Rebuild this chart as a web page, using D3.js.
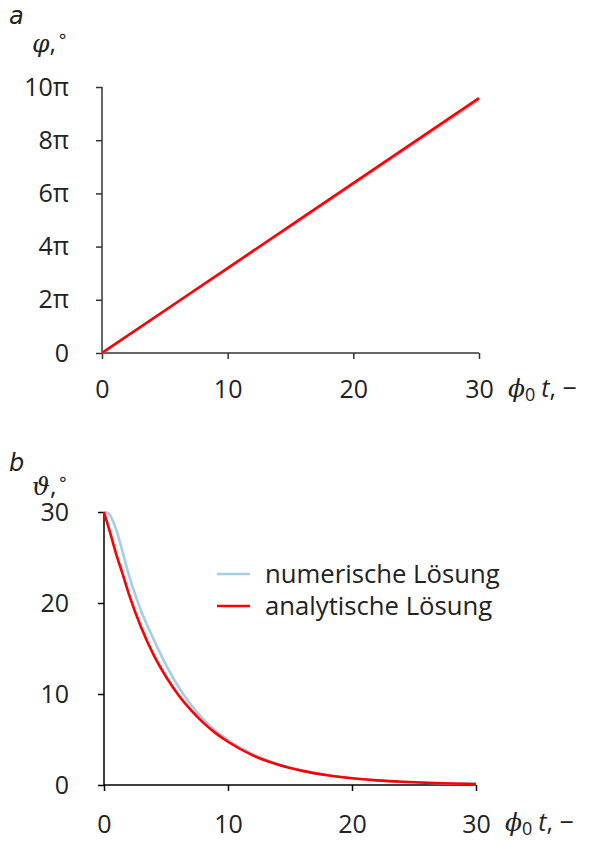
<!DOCTYPE html>
<html>
<head>
<meta charset="utf-8">
<script src="https://cdn.jsdelivr.net/npm/d3@7"></script>
<style>
  html, body { margin: 0; padding: 0; background: #fff; }
  svg text { font-family: "Open Sans", "Noto Sans", "DejaVu Sans", sans-serif; fill: #222; }
</style>
</head>
<body>
<svg id="chart" width="592" height="841"></svg>
<script>
// Panel a: azimuth angle phi (radians) over dimensionless time phi0*t
const phiTime = [0, 5, 10, 15, 20, 25, 30];
const phiNumeric = [0, 4.97, 9.95, 14.92, 19.90, 24.87, 29.85];
const phiAnalytic = [0, 5.02, 10.03, 15.05, 20.07, 25.08, 30.1];
const phiTicks = [0, 2, 4, 6, 8, 10];           // multiples of pi
const phiTickLabels = ["0", "2π", "4π", "6π", "8π", "10π"];

// Panel b: polar angle theta (degrees) over phi0*t
const thetaTimeNum = [0, 0.25, 0.5, 0.75, 1, 1.5, 2, 2.5, 3, 3.5, 4, 5, 6, 7, 8, 9, 10, 12, 14, 16, 18, 20, 22, 24, 26, 28, 30];
const thetaNumeric = [30, 29.92, 29.6, 28.9, 28.0, 25.6, 23.1, 21.0, 19.1, 17.5, 16.0, 13.2, 10.8, 8.85, 7.25, 5.95, 4.95, 3.4, 2.32, 1.58, 1.09, 0.75, 0.52, 0.36, 0.25, 0.17, 0.12];
const thetaTimeAna = [0, 0.5, 1, 1.5, 2, 3, 4, 5, 6, 7, 8, 9, 10, 12, 14, 16, 18, 20, 22, 24, 26, 28, 30];
const thetaAnalytic = [30, 27.7, 25.3, 23.2, 21.0, 17.3, 14.3, 11.9, 9.9, 8.25, 6.85, 5.7, 4.75, 3.25, 2.25, 1.55, 1.07, 0.74, 0.51, 0.35, 0.24, 0.17, 0.11];
const thetaTicks = [0, 10, 20, 30];
const timeTicks = [0, 10, 20, 30];

const legendLabels = ["numerische Lösung", "analytische Lösung"];
const colNumeric = "#a6cde8";
const colAnalytic = "#ff0000";

const svg = d3.select("#chart");
const fs = 25;

function drawPanel(cfg) {
  const g = svg.append("g");
  const x = d3.scaleLinear().domain([0, 30]).range([cfg.x0, cfg.x1]);
  const y = d3.scaleLinear().domain(cfg.yDomain).range([cfg.y0, cfg.y1]);

  const xAxis = d3.axisBottom(x).tickValues(timeTicks).tickSize(6).tickPadding(cfg.xPad).tickFormat(d3.format("d"));
  const yAxis = d3.axisLeft(y).tickValues(cfg.yTicks).tickSize(6).tickPadding(cfg.yPad).tickFormat(cfg.yFormat);

  const gx = g.append("g").attr("transform", `translate(0,${cfg.y0})`).call(xAxis);
  const gy = g.append("g").attr("transform", `translate(${cfg.x0},0)`).call(yAxis);
  [gx, gy].forEach(a => {
    a.select(".domain").attr("stroke", cfg.axisColor).attr("stroke-width", 1.5);
    a.selectAll(".tick line").attr("stroke", cfg.axisColor).attr("stroke-width", 1.5);
    a.selectAll(".tick text").attr("font-size", fs).attr("fill", "#222")
      .style("font-family", "'Open Sans', 'Noto Sans', sans-serif");
  });
  gy.select(".domain").attr("d", `M0,${cfg.y0}V${cfg.y1}`);
  gx.select(".domain").attr("d", `M${cfg.x0},0H${cfg.x1}`);

  const line = d3.line().x(d => x(d[0])).y(d => y(d[1])).curve(d3.curveMonotoneX);
  cfg.series.forEach(s => {
    g.append("path").datum(s.t.map((t, i) => [t, s.v[i]]))
      .attr("fill", "none").attr("stroke", s.color).attr("stroke-width", 2.6)
      .attr("d", line);
  });

  // panel letter
  g.append("text").attr("x", cfg.letterX).attr("y", cfg.letterY)
    .attr("font-size", 24).attr("font-style", "italic")
    .style("font-family", "'DejaVu Sans', sans-serif").text(cfg.letter);
  // y-axis label
  const yl = g.append("text").attr("x", cfg.yLabelX).attr("y", cfg.yLabelY).attr("font-size", fs);
  yl.append("tspan").attr("font-style", "italic").style("font-family", "'DejaVu Serif', serif").text(cfg.yLabel);
  yl.append("tspan").text(",");
  yl.append("tspan").attr("dy", -10).attr("dx", 1).attr("font-size", 18).text("∘");
  // x-axis label
  const xl = g.append("text").attr("x", cfg.x1 + 29).attr("y", cfg.y0 + cfg.xLabelDy).attr("font-size", fs);
  xl.append("tspan").attr("font-style", "italic").style("font-family", "'DejaVu Serif', serif").text("ϕ");
  xl.append("tspan").attr("dy", 4).attr("font-size", 18).text("0");
  xl.append("tspan").attr("dy", -4).attr("dx", 6).attr("font-style", "italic").text("t");
  xl.append("tspan").text(", −");
  return { g, x, y };
}

drawPanel({
  x0: 102, x1: 479, y0: 353, y1: 87,
  yDomain: [0, 10 * Math.PI],
  yTicks: phiTicks.map(k => k * Math.PI),
  yFormat: (d, i) => phiTickLabels[i],
  axisColor: "#333",
  xPad: 21, yPad: 27, xLabelDy: 44,
  letter: "a", letterX: 9, letterY: 24,
  yLabel: "φ", yLabelX: 32, yLabelY: 52,
  series: [
    { t: phiTime, v: phiNumeric, color: colNumeric },
    { t: phiTime, v: phiAnalytic, color: colAnalytic }
  ]
});

drawPanel({
  x0: 104, x1: 476, y0: 785, y1: 512,
  yDomain: [0, 30],
  yTicks: thetaTicks,
  yFormat: d3.format("d"),
  axisColor: "#000",
  xPad: 24, yPad: 29, xLabelDy: 46,
  letter: "b", letterX: 9, letterY: 471,
  yLabel: "ϑ", yLabelX: 32, yLabelY: 495,
  series: [
    { t: thetaTimeNum, v: thetaNumeric, color: colNumeric },
    { t: thetaTimeAna, v: thetaAnalytic, color: colAnalytic }
  ]
});

// legend
const leg = svg.append("g").attr("transform", "translate(217,574)");
[colNumeric, colAnalytic].forEach((c, i) => {
  leg.append("line").attr("x1", 0).attr("x2", 33).attr("y1", i * 32).attr("y2", i * 32)
    .attr("stroke", c).attr("stroke-width", 2.6);
  leg.append("text").attr("x", 48).attr("y", i * 32 + 9).attr("font-size", 25.7).text(legendLabels[i]);
});
</script>
</body>
</html>
